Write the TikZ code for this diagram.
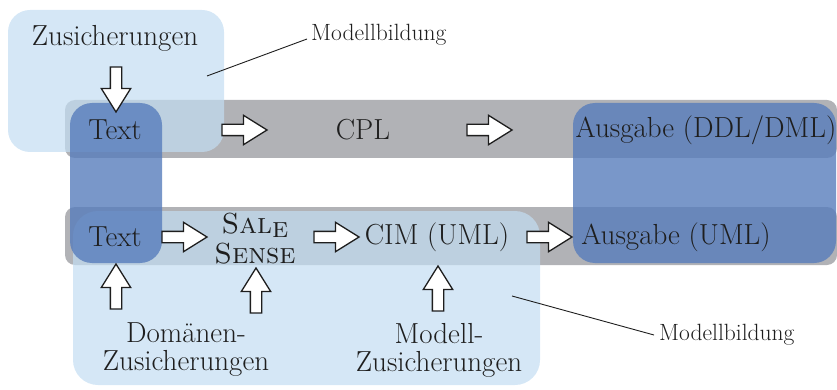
\documentclass[tikz,border=0pt]{standalone}
\usetikzlibrary{shapes.arrows}
\definecolor{lblue}{RGB}{195,221,242}
\definecolor{dblue}{RGB}{87,125,188}
\definecolor{band}{RGB}{177,178,182}
\definecolor{ink}{RGB}{30,30,30}
\begin{document}
\begin{tikzpicture}[x=1pt,y=-1pt,
  txt/.style={font=\fontsize{29}{28}\selectfont, inner sep=0pt, align=center, text=ink},
  note/.style={font=\fontsize{23.5}{25}\selectfont, inner sep=0pt, anchor=west, text=ink},
  barrow/.style={single arrow, draw=ink, fill=white, line width=1.3pt,
    minimum height=45pt, inner sep=5pt,
    single arrow head extend=9pt, single arrow tip angle=64},
  lead/.style={draw=ink, line width=0.9pt},
  bandbox/.style={fill=band, rounded corners=10pt},
  lightbox/.style={fill=lblue, opacity=0.7, rounded corners=22pt},
  darkbox/.style={fill=dblue, opacity=0.8, rounded corners=22pt}]
\useasboundingbox (0,0) rectangle (837,390);
% backgrounds
\fill[bandbox] (65,100) rectangle (837,158);
\fill[bandbox] (65,207) rectangle (837,265);
\fill[lightbox] (8,10) rectangle (224,152);
\fill[lightbox, rounded corners=25pt] (73,211) rectangle (540,385);
\fill[darkbox] (70,103) rectangle (162,263);
\fill[darkbox] (573,103) rectangle (836,263);
% text nodes
\node[txt] (zus) at (115,38) {Zusicherungen};
\node[txt] (text1) at (115,130) {Text};
\node[txt] (cpl) at (363,130) {CPL};
\node[txt] (aus1) at (706,130) {Ausgabe (DDL/DML)};
\node[txt] (text2) at (115,237) {Text};
\node[txt, font=\fontsize{29}{30}\selectfont] (sale) at (255,239) {\textsc{Sal}\raisebox{-0.25ex}{\textsc{e}}\\\textsc{Sense}};
\node[txt] (cim) at (437,237) {CIM (UML)};
\node[txt] (aus2) at (676,237) {Ausgabe (UML)};
\node[txt] (dom) at (186,350) {Domänen-\\Zusicherungen};
\node[txt] (mod) at (439,350) {Modell-\\Zusicherungen};
\node[note] (mb1) at (311,35) {Modellbildung};
\node[note] (mb2) at (659,335) {Modellbildung};
% block arrows
\node[barrow, shape border rotate=270] (d1) at (116,85) {};
\node[barrow] (a1) at (240,130) {};
\node[barrow] (a2) at (485,130) {};
\node[barrow] (b1) at (180,237) {};
\node[barrow] (b2) at (332,237) {};
\node[barrow] (b3) at (545,237) {};
\node[barrow, shape border rotate=90] (u1) at (116,291) {};
\node[barrow, shape border rotate=90] (u2) at (256,295) {};
\node[barrow, shape border rotate=90] (u3) at (438,293) {};
% callout lines
\coordinate (c1) at (207,76);
\coordinate (c2) at (512,296);
\draw[lead] (c1) -- ([xshift=-4pt,yshift=-4pt]mb1.west);
\draw[lead] (c2) -- ([xshift=-5pt]mb2.west);
\end{tikzpicture}
\end{document}
